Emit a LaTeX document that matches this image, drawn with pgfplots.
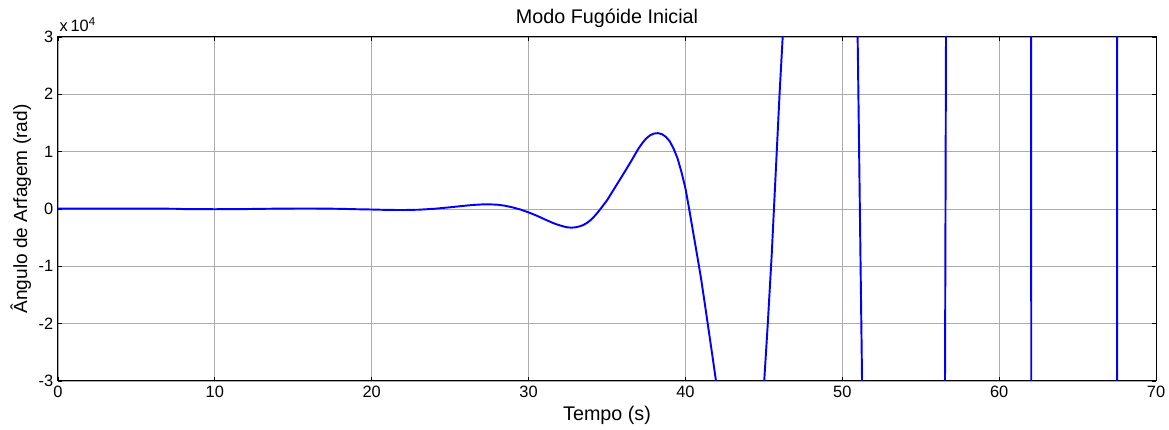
\documentclass[border=0pt]{standalone}
\usepackage{pgfplots}
\pgfplotsset{compat=1.18}
\usepackage{fontspec}
\setmainfont{Liberation Sans}
\begin{document}
\begin{tikzpicture}
\path[use as bounding box] (-43.5pt,-36pt) rectangle (833.25pt,285.75pt);
\begin{axis}[
  scale only axis, width=823.5pt, height=258pt,
  xmin=0, xmax=70, ymin=-30000, ymax=30000,
  xtick={0,10,...,70}, ytick={-30000,-20000,...,30000},
  scaled y ticks=base 10:-4,
  ytick scale label code/.code={x\,10\textsuperscript{4}},
  every y tick scale label/.style={at={(axis description cs:0,1)}, anchor=base west, inner sep=0pt, xshift=1pt, yshift=4.2pt, font=\fontsize{12.3}{14}\selectfont},
  tick label style={font=\fontsize{12.3}{14}\selectfont},
  /pgf/number format/assume math mode=true,
  tick align=inside, major tick length=3pt,
  tick style={black, line width=0.6pt},
  axis line style={black, line width=0.75pt},
  grid=major, major grid style={gray!65, line width=0.6pt},
  every axis title shift=0pt,
  title={Modo Fugóide Inicial},
  title style={at={(axis description cs:0.5,1)}, anchor=base, yshift=9.75pt, inner sep=0pt, font=\fontsize{14.8}{16}\selectfont},
  xlabel={Tempo (s)},
  xlabel style={at={(axis description cs:0.5,-0.1163)}, anchor=base, inner sep=0pt, font=\fontsize{14.8}{16}\selectfont},
  ylabel={Ângulo de Arfagem (rad)},
  ylabel style={at={(axis description cs:-0.0282,0.5)}, anchor=base, rotate=0, inner sep=0pt, font=\fontsize{14.3}{16}\selectfont},
]
\addplot[color=blue, line width=1.45pt] coordinates {
(0,50) (2,60) (4,70) (6,60) (7.5,30) (8,-20) (9,-40) (10,-50) (11,-40) (12,-20)
(13,20) (14,50) (15,70) (16,80) (17,60) (18,20) (18.6,-20) (19,-50) (20,-100)
(21,-170) (22,-190) (23,-135) (24,30) (25,290) (26,580) (26.5,700) (27,780)
(27.5,800) (28,740) (28.5,560) (29,260) (29.5,-120) (30,-600) (30.5,-1150)
(31,-1780) (31.5,-2380) (31.75,-2650) (32,-2870) (32.25,-3070) (32.5,-3220)
(32.75,-3260) (33,-3200) (33.25,-3040) (33.5,-2800) (33.75,-2380)
(34,-1850) (34.25,-1120) (34.5,-300) (34.75,600) (35,1500) (35.25,2600)
(35.5,3700) (35.75,4800) (36,5900) (36.25,7030) (36.5,8150) (36.75,9330)
(37,10500) (37.25,11480) (37.5,12300) (37.75,12850) (38,13150) (38.25,13220)
(38.5,13050) (38.75,12580) (39,11800) (39.25,10500) (39.5,8800) (39.75,6400)
(40,3600) (40.25,-200) (40.5,-4200) (40.75,-8150)
(41,-12200) (41.25,-16800) (41.5,-21500) (41.75,-26200) (42,-31000) (42.5,-42000) (43,-49000)
(43.5,-54000) (44,-53000) (44.5,-46000) (45,-31000) (45.25,-20000)
(45.5,-8000) (45.75,6000) (46,20000) (46.25,32500) (46.5,50000) (47,98000)
(47.5,139000) (48,178000) (48.5,207000) (49,223000) (49.5,216000)
(50,185000) (50.5,123000) (51,25700) (51.12,0) (51.25,-27800) (51.5,-96000)
(52,-249000) (53,-589000) (54,-860000) (55,-891000) (56,-485000)
(56.4,-170000) (56.58,0) (56.75,165000) (57.2,600000) (59.5,900000)
(61.8,600000) (61.98,240000) (62.04,0) (62.1,-240000) (62.3,-600000)
(64.8,-900000) (67.3,-600000) (67.5,-326000) (67.52,0) (67.54,326000)
(67.7,600000) (70,900000)
};
\end{axis}
\end{tikzpicture}
\end{document}
